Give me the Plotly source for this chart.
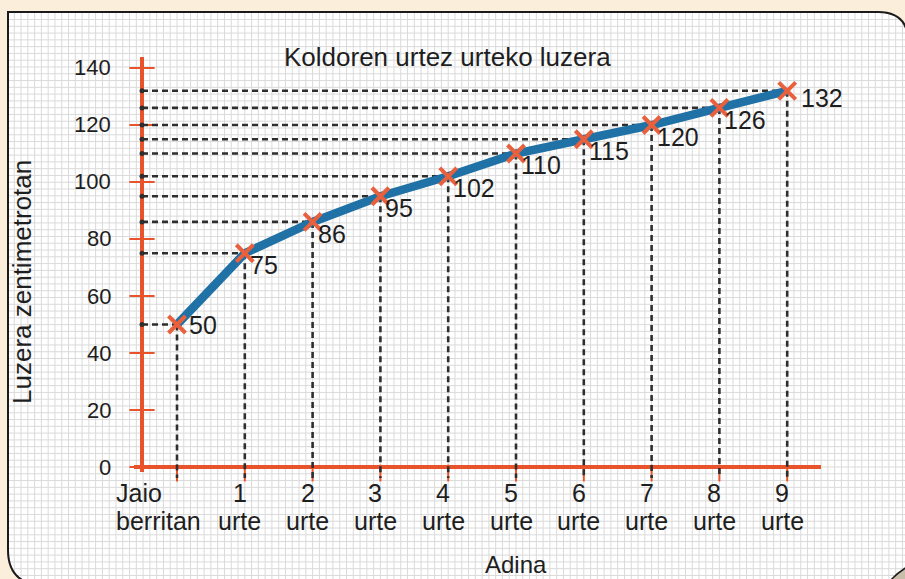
import plotly.graph_objects as go

# ---------------- data ----------------
ages = [0, 1, 2, 3, 4, 5, 6, 7, 8, 9]
age_labels = ["Jaio<br>berritan", "1<br>urte", "2<br>urte", "3<br>urte", "4<br>urte",
              "5<br>urte", "6<br>urte", "7<br>urte", "8<br>urte", "9<br>urte"]
heights = [50, 75, 86, 95, 102, 110, 115, 120, 126, 132]
y_ticks = [0, 20, 40, 60, 80, 100, 120, 140]
chart_title = "Koldoren urtez urteko luzera"
x_title = "Adina"
y_title = "Luzera zentimetrotan"

# ---------------- geometry (pixel layout) ----------------
W, H = 905, 579
X0, DX = 177.0, 67.8      # pixel of age 0, pixels per year
Y0, DY = 467.0, 2.85      # pixel of 0 cm, pixels per cm


def vx(px):
    return (px - X0) / DX


def vy(py):
    return (Y0 - py) / DY


def PX(x):
    return x / W


def PY(y):
    return 1 - y / H


DOM_L, DOM_R, DOM_T, DOM_B = 105, 865, 30, 495
AXIS_X = vx(142)
FONT = "Liberation Sans, Arial, sans-serif"
TXT = "#1e1e1e"
RED = "#e8532b"
BLUE = "#1f71a6"
MARK = "#e8603c"
CREAM = "#fbefdc"
DASH = "#2e2e2e"

fig = go.Figure()

# red axes
fig.add_trace(go.Scatter(x=[vx(134), vx(821)], y=[0, 0], mode="lines",
                         line=dict(color=RED, width=4), hoverinfo="skip", showlegend=False))
fig.add_trace(go.Scatter(x=[AXIS_X, AXIS_X], y=[vy(472), vy(57)], mode="lines",
                         line=dict(color=RED, width=4), hoverinfo="skip", showlegend=False))
# axis tick marks
fig.add_trace(go.Scatter(x=[AXIS_X] * len(y_ticks), y=y_ticks, mode="markers",
                         marker=dict(symbol="line-ew", size=18, line=dict(color=RED, width=2)),
                         hoverinfo="skip", showlegend=False, cliponaxis=False))
fig.add_trace(go.Scatter(x=ages, y=[vy(473)] * len(ages), mode="markers",
                         marker=dict(symbol="line-ns", size=12, line=dict(color=RED, width=2)),
                         hoverinfo="skip", showlegend=False, cliponaxis=False))

# dashed guide lines
hx, hy, gx, gy = [], [], [], []
for a, h in zip(ages, heights):
    hx += [AXIS_X, a, None]
    hy += [h, h, None]
    gx += [a, a, None]
    gy += [h, vy(478), None]
fig.add_trace(go.Scatter(x=hx, y=hy, mode="lines",
                         line=dict(color=DASH, width=2.6, dash="6px,4px"),
                         hoverinfo="skip", showlegend=False))
fig.add_trace(go.Scatter(x=gx, y=gy, mode="lines",
                         line=dict(color=DASH, width=2.6, dash="6px,4px"),
                         hoverinfo="skip", showlegend=False))
fig.add_trace(go.Scatter(x=[AXIS_X] * len(heights), y=heights, mode="markers",
                         marker=dict(color=DASH, size=5),
                         hoverinfo="skip", showlegend=False))

# main blue line
fig.add_trace(go.Scatter(x=ages, y=heights, mode="lines",
                         line=dict(color=BLUE, width=8.5),
                         hoverinfo="skip", showlegend=False))
# red x markers
fig.add_trace(go.Scatter(x=ages, y=heights, mode="markers",
                         marker=dict(symbol="x-thin", size=17, color=MARK,
                                     line=dict(color=MARK, width=4)),
                         cliponaxis=False, showlegend=False))

# ---------------- background shapes (grid paper panel) ----------------
shapes = []
shapes.append(dict(type="path", xref="paper", yref="paper", layer="below",
                   path=f"M {PX(8)} {PY(12)} L {PX(910)} {PY(12)} L {PX(910)} {PY(585)} "
                        f"L {PX(8)} {PY(585)} Z",
                   fillcolor="white", line=dict(width=0)))
step = 6.78
segs = []
k = -40
while True:
    x = X0 + k * step
    k += 1
    if x < 9:
        continue
    if x > W:
        break
    segs.append(f"M {PX(x)} {PY(12)} L {PX(x)} {PY(H)}")
k = -90
while True:
    y = Y0 + k * step
    k += 1
    if y < 13:
        continue
    if y > H:
        break
    segs.append(f"M {PX(8)} {PY(y)} L {PX(W)} {PY(y)}")
shapes.append(dict(type="path", xref="paper", yref="paper", layer="below",
                   path=" ".join(segs), line=dict(color="#dadada", width=1)))
# corner masks
shapes.append(dict(type="path", xref="paper", yref="paper", layer="below",
                   path=f"M {PX(878)} {PY(12)} Q {PX(906)} {PY(12)} {PX(908)} {PY(38)} "
                        f"L {PX(912)} {PY(38)} L {PX(912)} {PY(8)} L {PX(878)} {PY(8)} Z",
                   fillcolor=CREAM, line=dict(width=0)))
shapes.append(dict(type="path", xref="paper", yref="paper", layer="below",
                   path=f"M {PX(8)} {PY(550)} Q {PX(8)} {PY(578)} {PX(32)} {PY(584)} "
                        f"L {PX(4)} {PY(584)} L {PX(4)} {PY(550)} Z",
                   fillcolor=CREAM, line=dict(width=0)))
# panel border
shapes.append(dict(type="path", xref="paper", yref="paper", layer="below",
                   path=f"M {PX(8)} {PY(550)} L {PX(8)} {PY(12)} L {PX(878)} {PY(12)} "
                        f"Q {PX(906)} {PY(12)} {PX(908)} {PY(38)}",
                   line=dict(color="#1a1a1a", width=2)))
shapes.append(dict(type="path", xref="paper", yref="paper", layer="below",
                   path=f"M {PX(8)} {PY(550)} Q {PX(8)} {PY(578)} {PX(32)} {PY(584)}",
                   line=dict(color="#1a1a1a", width=2)))
# bottom-right page curl
shapes.append(dict(type="path", xref="paper", yref="paper", layer="below",
                   path=f"M {PX(890)} {PY(581)} Q {PX(897)} {PY(573)} {PX(907)} {PY(567)} "
                        f"L {PX(907)} {PY(581)} Z",
                   fillcolor="#c8bea9", line=dict(color="#1a1a1a", width=1.5)))

# ---------------- annotations (texts) ----------------
ann = []
# value labels
for i, (a, h) in enumerate(zip(ages, heights)):
    if i == 0:
        xs, ys = 10, 0
    elif i == len(heights) - 1:
        xs, ys = 12, -7
    else:
        xs, ys = 3, -12
    ann.append(dict(x=a, y=h, xref="x", yref="y", text=str(h), showarrow=False,
                    xanchor="left", yanchor="middle", xshift=xs, yshift=ys,
                    font=dict(family=FONT, size=25, color=TXT)))
# y tick labels
for v in y_ticks:
    ann.append(dict(x=AXIS_X, y=v, xref="x", yref="y", text=str(v), showarrow=False,
                    xanchor="right", yanchor="middle", xshift=-29,
                    font=dict(family=FONT, size=22, color=TXT)))
# x tick labels (two lines each)
for i, (a, lab) in enumerate(zip(ages, age_labels)):
    line1, line2 = lab.split("<br>")
    for txt, py in ((line1, 493), (line2, 521)):
        if i == 0:
            ann.append(dict(x=vx(114), y=PY(py), xref="x", yref="paper", text=txt,
                            showarrow=False, xanchor="left", yanchor="middle",
                            font=dict(family=FONT, size=25, color=TXT)))
        else:
            ann.append(dict(x=a, y=PY(py), xref="x", yref="paper", text=txt,
                            showarrow=False, xanchor="center", yanchor="middle", xshift=-5,
                            font=dict(family=FONT, size=25, color=TXT)))
ann.append(dict(x=PX(447), y=PY(57), xref="paper", yref="paper", text=chart_title,
                showarrow=False, xanchor="center", yanchor="middle",
                font=dict(family=FONT, size=26, color=TXT)))
ann.append(dict(x=PX(516), y=PY(564), xref="paper", yref="paper", text=x_title,
                showarrow=False, xanchor="center", yanchor="middle",
                font=dict(family=FONT, size=24, color=TXT)))
ann.append(dict(x=PX(22), y=PY(282), xref="paper", yref="paper", text=y_title,
                showarrow=False, xanchor="center", yanchor="middle", textangle=-90,
                font=dict(family=FONT, size=26, color=TXT)))

fig.update_layout(
    width=W, height=H,
    margin=dict(l=0, r=0, t=0, b=0),
    paper_bgcolor=CREAM, plot_bgcolor="rgba(0,0,0,0)",
    shapes=shapes, annotations=ann, showlegend=False,
    xaxis=dict(range=[vx(DOM_L), vx(DOM_R)], domain=[PX(DOM_L), PX(DOM_R)],
               visible=False, fixedrange=True),
    yaxis=dict(range=[vy(DOM_B), vy(DOM_T)], domain=[PY(DOM_B), PY(DOM_T)],
               visible=False, fixedrange=True),
)

fig.write_html("out.html",
               config={"displayModeBar": False},
               post_script="document.body.style.margin='0';"
                           "document.body.style.background='" + CREAM + "';")
